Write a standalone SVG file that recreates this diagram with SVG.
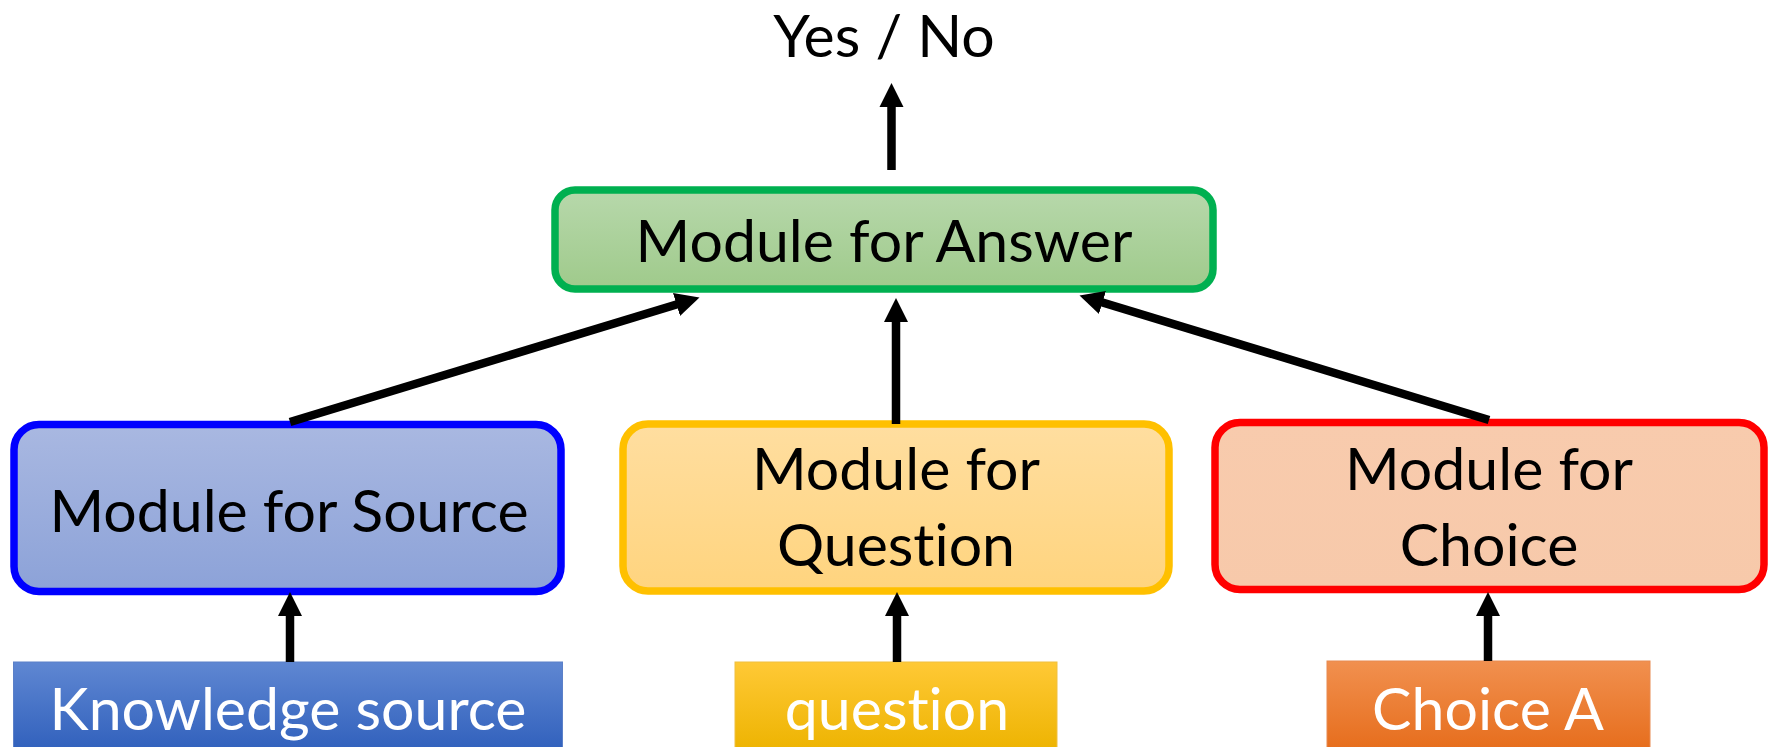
<svg xmlns="http://www.w3.org/2000/svg" width="1774" height="747" viewBox="0 0 1774 747">
<defs>
<linearGradient id="gSrc" x1="0" y1="0" x2="0" y2="1"><stop offset="0" stop-color="#A9B8E1"/><stop offset="1" stop-color="#8CA2D8"/></linearGradient>
<linearGradient id="gAns" x1="0" y1="0" x2="0" y2="1"><stop offset="0" stop-color="#B7D8AB"/><stop offset="1" stop-color="#9FCA8B"/></linearGradient>
<linearGradient id="gQ" x1="0" y1="0" x2="0" y2="1"><stop offset="0" stop-color="#FFDEA0"/><stop offset="1" stop-color="#FFD47E"/></linearGradient>
<linearGradient id="gC" x1="0" y1="0" x2="0" y2="1"><stop offset="0" stop-color="#F8CBAD"/><stop offset="1" stop-color="#F7C9AA"/></linearGradient>
<linearGradient id="gKs" x1="0" y1="0" x2="0" y2="1"><stop offset="0" stop-color="#5F87D2"/><stop offset="1" stop-color="#3060BC"/></linearGradient>
<linearGradient id="gQi" x1="0" y1="0" x2="0" y2="1"><stop offset="0" stop-color="#FFC936"/><stop offset="1" stop-color="#EDB300"/></linearGradient>
<linearGradient id="gCi" x1="0" y1="0" x2="0" y2="1"><stop offset="0" stop-color="#F1904F"/><stop offset="1" stop-color="#E66D1C"/></linearGradient>
<marker id="ah" markerUnits="userSpaceOnUse" markerWidth="25" markerHeight="25" refX="12" refY="12" orient="auto" viewBox="0 0 25 24">
<path d="M0,0 L24,12 L0,24 z" fill="#000"/>
</marker>
</defs>
<style>
.t{font-family:Lato,"Open Sans","Liberation Sans",sans-serif;font-size:59px;fill:#000;text-anchor:middle;font-variant-ligatures:none}
.w{fill:#fff}
.box{stroke-width:7.5}
.conn{stroke:#000;stroke-width:8.5;fill:none;marker-end:url(#ah)}
</style>
<rect width="1774" height="747" fill="#fff"/>
<g id="out"><text class="t" x="884" y="57">Yes / No</text></g>
<g id="answer"><rect class="box" x="555" y="190" width="658" height="99" rx="20" fill="url(#gAns)" stroke="#00B050"/><text class="t" x="884" y="262">Module for Answer</text></g>
<g id="source"><rect class="box" x="14" y="424.5" width="547" height="167" rx="25" fill="url(#gSrc)" stroke="#0000FF"/><text class="t" x="289" y="532">Module for Source</text></g>
<g id="question"><rect class="box" x="623" y="424" width="546" height="167" rx="25" fill="url(#gQ)" stroke="#FFC000"/><text class="t" x="896" y="490">Module for</text><text class="t" x="896" y="566">Question</text></g>
<g id="choice"><rect class="box" x="1215" y="422.5" width="549" height="167" rx="25" fill="url(#gC)" stroke="#FF0000"/><text class="t" x="1489" y="490">Module for</text><text class="t" x="1489" y="566">Choice</text></g>
<g id="ks"><rect x="13.5" y="662" width="549" height="90" fill="url(#gKs)" stroke="#5B80C8" stroke-width="1"/><text class="t w" x="288" y="730">Knowledge source</text></g>
<g id="qi"><rect x="735" y="662" width="322" height="90" fill="url(#gQi)" stroke="#F0C040" stroke-width="1"/><text class="t w" x="897" y="730">question</text></g>
<g id="ci"><rect x="1327" y="661" width="323" height="90" fill="url(#gCi)" stroke="#E88A50" stroke-width="1"/><text class="t w" x="1488" y="730">Choice A</text></g>
<g id="connectors">
<line class="conn" x1="891.5" y1="170" x2="891.5" y2="95"/>
<line class="conn" x1="290" y1="422" x2="688" y2="301"/>
<line class="conn" x1="896" y1="424" x2="896" y2="310"/>
<line class="conn" x1="1489" y1="420" x2="1091" y2="299"/>
<line class="conn" x1="290" y1="662" x2="290" y2="604"/>
<line class="conn" x1="897" y1="662" x2="897" y2="604"/>
<line class="conn" x1="1488" y1="661" x2="1488" y2="604"/>
</g>
</svg>
